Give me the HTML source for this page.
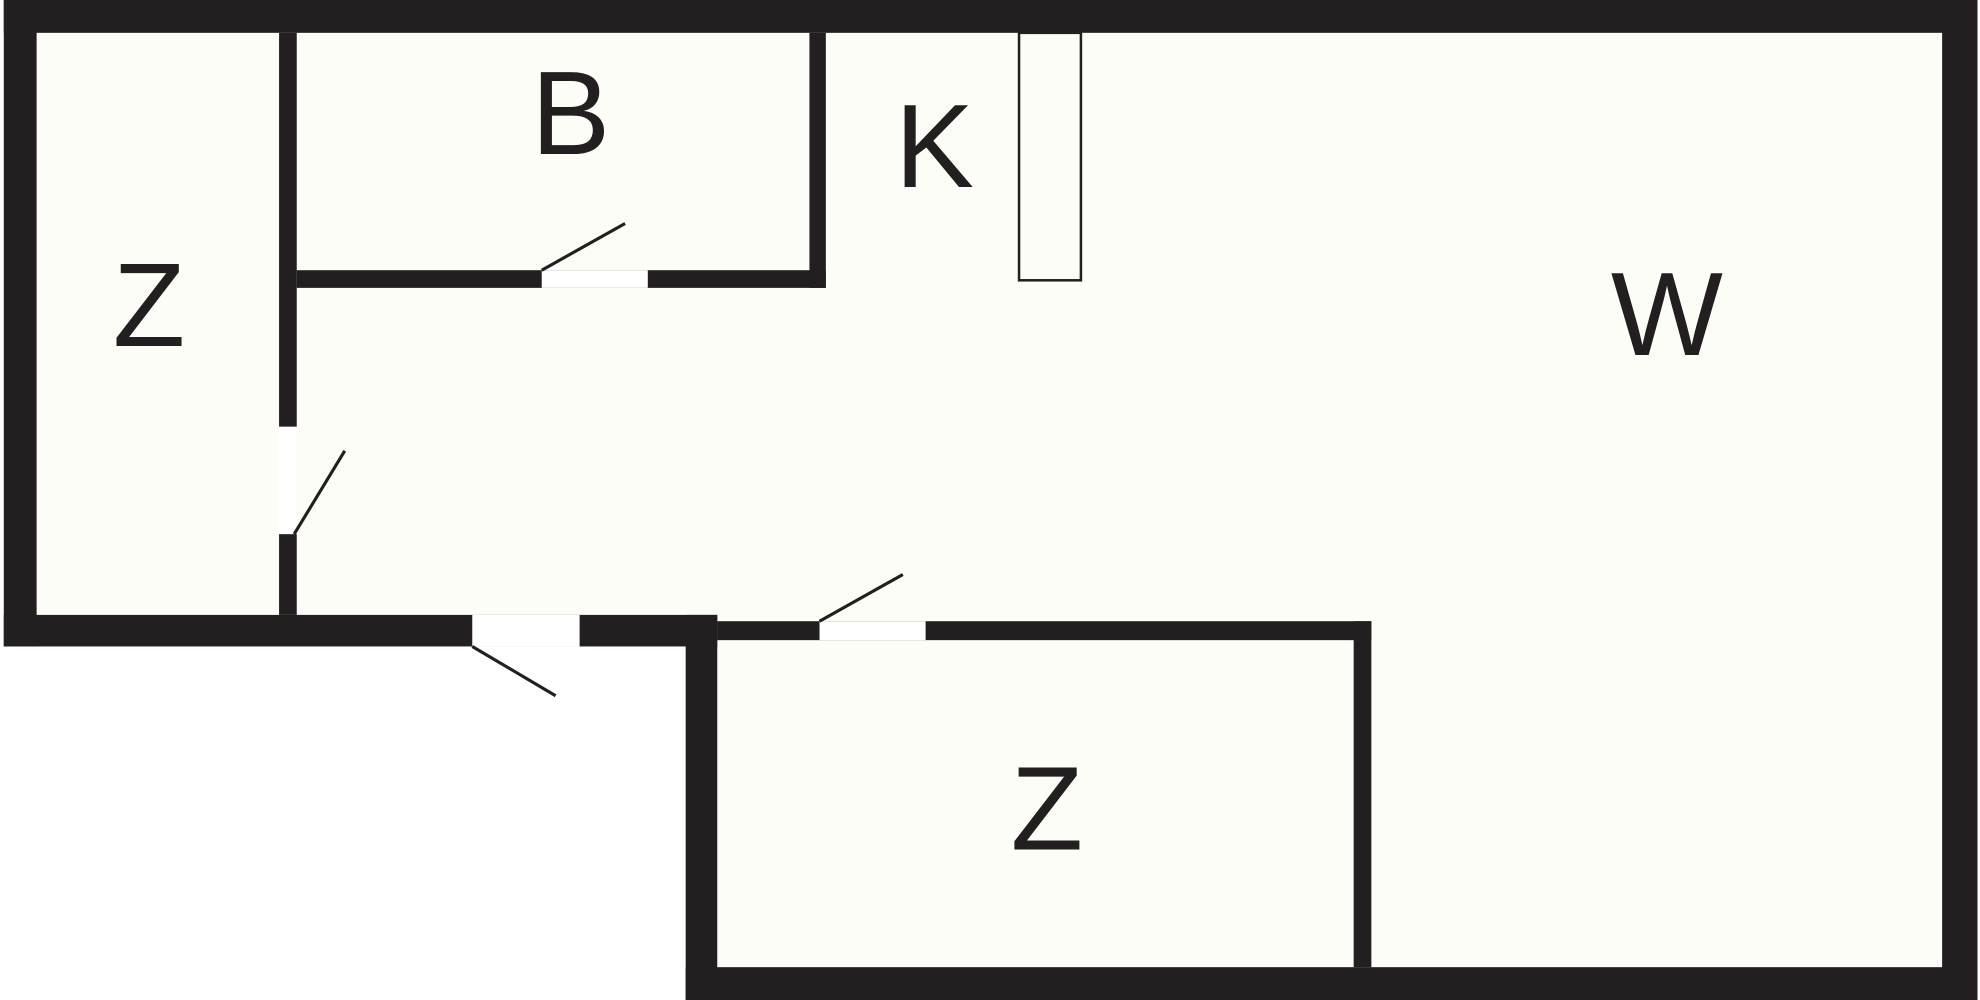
<!DOCTYPE html>
<html><head><meta charset="utf-8"><style>
html,body{margin:0;padding:0;background:#fff;}
svg{display:block;}
text{font-family:"Liberation Sans",sans-serif;fill:#231f20;font-size:94px;text-anchor:middle;}
</style></head><body>
<svg width="1980" height="1000" viewBox="0 0 1568 792" preserveAspectRatio="none" xmlns="http://www.w3.org/2000/svg">
<rect width="1568" height="792" fill="#fff"/>
<polygon points="3,0 1566,0 1566,792 543,792 543,512 3,512" fill="#fdfdf8"/>
<g fill="#231f20">
<rect x="3" y="0" width="1563" height="26"/>
<rect x="3" y="0" width="26" height="512"/>
<rect x="1538" y="0" width="28" height="792"/>
<rect x="543" y="766" width="1023" height="26"/>
<rect x="3" y="487" width="565" height="25"/>
<rect x="543" y="487" width="25" height="305"/>
<rect x="568" y="492" width="518" height="15"/>
<rect x="1072" y="492" width="14" height="274"/>
<rect x="221" y="26" width="14" height="312"/>
<rect x="221" y="423" width="14" height="64"/>
<rect x="235" y="214" width="419" height="14"/>
<rect x="641" y="26" width="13" height="202"/>
</g>
<g fill="#fff">
<rect x="429" y="214" width="84" height="14"/>
<rect x="221" y="338" width="14" height="85"/>
<rect x="374" y="487" width="85" height="25"/>
<rect x="649" y="492" width="84" height="15"/>
</g>
<g stroke="#231f20" stroke-width="2.5" fill="none">
<line x1="429" y1="214" x2="495" y2="177"/>
<line x1="233" y1="423" x2="273" y2="357"/>
<line x1="374" y1="512" x2="440" y2="551"/>
<line x1="649" y1="492" x2="715" y2="455"/>
<rect x="807" y="26" width="49" height="196" stroke-width="2"/>
</g>
<text x="118" y="274">Z</text>
<text x="452" y="122">B</text>
<text x="740" y="148">K</text>
<text x="1320" y="281">W</text>
<text x="829" y="673">Z</text>
</svg>
</body></html>
